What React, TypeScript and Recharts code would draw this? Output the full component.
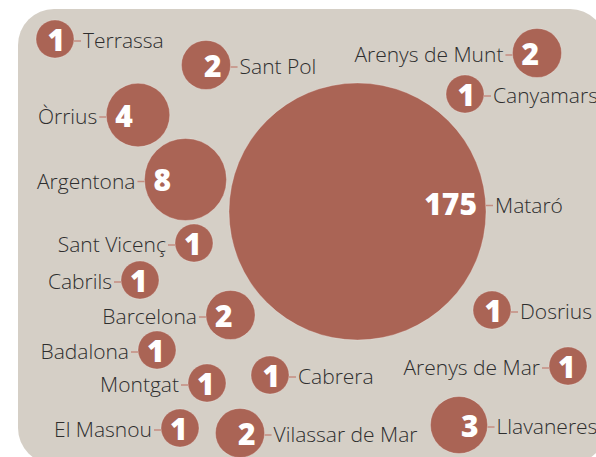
import { Scatter, ScatterChart, XAxis, YAxis, ZAxis } from 'recharts';

// municipalities, counts and packed-bubble layout (in chart units)
const towns = [
  'Mataró', 'Argentona', 'Òrrius', 'Llavaneres', 'Sant Pol', 'Arenys de Munt',
  'Barcelona', 'Vilassar de Mar', 'Terrassa', 'Canyamars', 'Sant Vicenç', 'Cabrils',
  'Dosrius', 'Badalona', 'Cabrera', 'Arenys de Mar', 'Montgat', 'El Masnou',
];
const counts = [175, 8, 4, 3, 2, 2, 2, 2, 1, 1, 1, 1, 1, 1, 1, 1, 1, 1];
const layoutX = [357.5, 185.5, 138, 459, 206, 537, 230.5, 240, 55, 465, 194, 140, 492, 157, 270, 568, 207, 180];
const layoutY = [211.5, 179.5, 115, 425, 65, 53, 315, 433, 39, 94, 243, 280, 310, 350, 375, 366, 383, 428];
const labelSide = [
  'right', 'left', 'left', 'right', 'right', 'left', 'left', 'right', 'right',
  'right', 'left', 'left', 'right', 'left', 'right', 'left', 'left', 'left',
];

const data = towns.map((name, i) => ({
  name,
  value: counts[i],
  x: layoutX[i],
  y: layoutY[i],
  side: labelSide[i],
}));

const W = 596;
const H = 457;
const BUBBLE = '#aa6455';
const LEADER = '#c48d80';
const INK = '#2e2e2e';
const FONT = '"Open Sans", sans-serif';

// bubble area grows as value^0.74 (power scale on area, d3-like interface)
function powScale(exponent: number) {
  let dom = [0, 1];
  let rng = [0, 1];
  const f = (v: number) => Math.pow(Math.max(v, 0), exponent);
  const scale: any = (v: number) => {
    const t = (f(v) - f(dom[0])) / (f(dom[1]) - f(dom[0]));
    return rng[0] + t * (rng[1] - rng[0]);
  };
  scale.domain = (d?: number[]) => {
    if (!d) return dom;
    dom = d.map(Number);
    return scale;
  };
  scale.range = (r?: number[]) => {
    if (!r) return rng;
    rng = r.map(Number);
    return scale;
  };
  scale.ticks = () => dom;
  scale.copy = () => powScale(exponent).domain(dom).range(rng);
  return scale;
}

const maxArea = Math.PI * 128.5 * 128.5;

function Bubble(props: any) {
  const { cx, cy, width, payload } = props;
  const r = width / 2;
  const right = payload.side === 'right';
  const edge = right ? cx + r : cx - r;
  const dir = right ? 1 : -1;
  // the big bubble's label sits a little above its centre
  const ly = r > 100 ? cy - 6 : cy + 2;
  return (
    <g>
      <circle cx={cx} cy={cy} r={r} fill={BUBBLE} stroke="rgba(255,255,255,0.25)" strokeWidth={1} />
      <line x1={edge} y1={ly} x2={edge + dir * 7} y2={ly} stroke={LEADER} strokeWidth={1.5} />
      <text
        x={right ? cx + r - 9 : cx - r + 9}
        y={ly - 1}
        dy="0.36em"
        textAnchor={right ? 'end' : 'start'}
        fill="#fff"
        fontFamily={FONT}
        fontWeight={800}
        fontSize={30}
      >
        {payload.value}
      </text>
      <text
        x={edge + dir * 9}
        y={ly}
        dy="0.35em"
        textAnchor={right ? 'start' : 'end'}
        fill={INK}
        fontFamily={FONT}
        fontWeight={300}
        fontSize={21}
      >
        {payload.name}
      </text>
    </g>
  );
}

export default function App() {
  return (
    <div style={{ position: 'absolute', left: 0, top: 0, width: W, height: H, overflow: 'hidden', background: '#fff' }}>
      <div
        style={{
          position: 'absolute',
          left: 18,
          top: 9,
          width: 588,
          height: 455,
          borderRadius: 36,
          background: '#d5cfc6',
        }}
      />
      <div style={{ position: 'absolute', left: 0, top: 0 }}>
        <ScatterChart width={W} height={H} margin={{ top: 0, right: 0, bottom: 0, left: 0 }}>
          <XAxis type="number" dataKey="x" domain={[0, W]} hide />
          <YAxis type="number" dataKey="y" domain={[0, H]} reversed hide />
          <ZAxis type="number" dataKey="value" domain={[0, 175]} range={[0, maxArea]} scale={powScale(0.74)} />
          <Scatter data={data} shape={<Bubble />} isAnimationActive={false} />
        </ScatterChart>
      </div>
    </div>
  );
}
